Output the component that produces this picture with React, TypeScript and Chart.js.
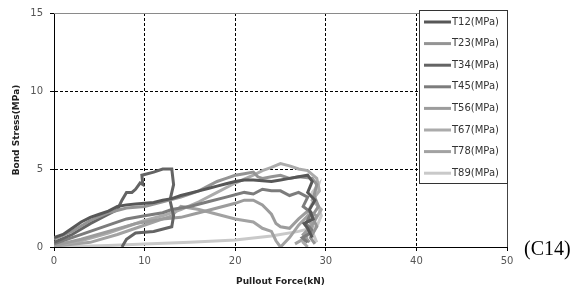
import React, { useEffect, useRef } from "react";
import { Chart, registerables } from "chart.js";

Chart.register(...registerables);

const SERIES_NAMES = ["T12(MPa)", "T23(MPa)", "T34(MPa)", "T45(MPa)", "T56(MPa)", "T67(MPa)", "T78(MPa)", "T89(MPa)"];
const SERIES_COLORS = ["#575757", "#949494", "#646464", "#7c7c7c", "#9c9c9c", "#ababab", "#a2a2a2", "#c9c9c9"];

const X_TICKS = [0, 10, 20, 30, 40, 50];
const Y_TICKS = [0, 5, 10, 15];

// [Pullout force (kN), bond stress (MPa)]
const T12 = [[0,0.6],[1,0.8],[2,1.2],[3,1.6],[4,1.9],[5,2.1],[6,2.3],[7,2.6],[8,2.7],[9,2.75],[10,2.8],[11,2.85],[12,3.0],[13,3.1],[14,3.3],[15,3.45],[16,3.6],[17,3.75],[18,3.9],[19,4.05],[20,4.2],[21,4.3],[22,4.3],[23,4.25],[24,4.2],[25,4.3],[26,4.4],[27,4.5],[28,4.6],[28.5,4.2],[28,3.5],[28.8,3.0],[28.2,2.4],[28.6,1.8],[27.6,1.5],[28,1.2],[28.5,0.6]];
const T23 = [[0,0.5],[2,1.0],[4,1.7],[6,2.2],[8,2.5],[10,2.6],[12,2.9],[14,3.2],[16,3.6],[17,3.9],[18,4.2],[19,4.4],[20,4.6],[21,4.7],[22,4.8],[22.5,4.5],[23,4.4],[24,4.5],[25,4.6],[26,4.4],[27,4.5],[28.5,4.4],[29,4.0],[28.7,3.3],[29.2,2.6],[28.5,2.0],[29,1.3],[28.3,0.6],[28.8,0.2]];
const T34 = [[0,0.3],[2,0.8],[4,1.5],[6,2.1],[7,2.4],[7.5,3.0],[8,3.5],[8.6,3.5],[9,3.7],[9.5,4.1],[9.8,4.0],[9.7,4.6],[11,4.8],[12,5.0],[13,5.0],[13.2,4.0],[12.8,3.0],[13.2,2.0],[13,1.3],[11,1.0],[9,0.9],[8,0.5],[7.5,0]];
const T45 = [[0,0.2],[2,0.6],[4,1.0],[6,1.4],[8,1.8],[10,2.0],[12,2.2],[13,2.4],[15,2.6],[17,2.9],[19,3.2],[21,3.5],[22,3.4],[23,3.7],[24,3.6],[25,3.6],[26,3.3],[27,3.5],[28,3.2],[27.5,2.6],[28.4,2.2],[27.8,1.5],[28.6,1.0],[27.4,0.6],[28,0.3]];
const T56 = [[0,0.1],[3,0.5],[6,1.0],[9,1.5],[12,1.8],[14,1.9],[16,2.2],[18,2.5],[20,2.8],[21,3.0],[22,3.0],[23,2.7],[23.5,2.4],[24,2.1],[24.5,1.5],[25,1.3],[26,1.2],[27,1.8],[28,2.3],[29,2.0],[28.5,1.4],[27.5,0.8],[28.2,0.3]];
const T67 = [[0,0.1],[3,0.4],[6,0.9],[8,1.3],[10,1.7],[12,2.0],[14,2.4],[16,2.9],[18,3.5],[20,4.1],[22,4.6],[23,4.9],[24,5.1],[25,5.35],[26,5.2],[27,5.0],[28,4.9],[29,4.4],[29.3,3.6],[28.5,3.0],[29.5,2.4],[28.8,1.7],[28,1.0],[27.5,0.3],[28,0]];
const T78 = [[0,0.05],[4,0.3],[7,0.8],[9,1.2],[11,1.6],[13,2.0],[14,2.6],[16,2.4],[18,2.1],[20,1.8],[21,1.7],[22,1.6],[23,1.2],[24,1.0],[24.5,0.4],[25,0],[26,0.6],[27,1.4],[28,2.0],[28.5,1.3],[27.8,0.6],[26.6,0.2]];
const T89 = [[0,0],[3,0.05],[6,0.1],[10,0.2],[15,0.3],[20,0.45],[24,0.7],[27,1.0],[29,1.3],[29.5,2.0],[29,2.8],[28.5,3.5],[29.2,4.0],[28.8,3.2],[28,2.2],[28.5,1.0],[29,0.3]];

const SERIES = [T12, T23, T34, T45, T56, T67, T78, T89];

const legendPlugin = {
  id: "customLegend",
  afterDatasetsDraw(chart: any) {
    const { ctx, chartArea } = chart;
    ctx.save();
    ctx.strokeStyle = "#8a8a8a";
    ctx.lineWidth = 1;
    ctx.beginPath();
    ctx.moveTo(chartArea.left, chartArea.top + 0.5);
    ctx.lineTo(chartArea.right, chartArea.top + 0.5);
    ctx.stroke();
    ctx.strokeStyle = "#444";
    ctx.beginPath();
    ctx.moveTo(chartArea.right + 0.5, chartArea.top);
    ctx.lineTo(chartArea.right + 0.5, chartArea.bottom);
    ctx.stroke();
    const bx = 419.5, by = 10.5, bw = 88, bh = 173;
    ctx.fillStyle = "#fff";
    ctx.fillRect(bx, by, bw, bh);
    ctx.strokeStyle = "#333";
    ctx.strokeRect(bx, by, bw, bh);
    ctx.font = "10px 'DejaVu Sans'";
    ctx.textBaseline = "middle";
    ctx.textAlign = "left";
    SERIES_NAMES.forEach((name, i) => {
      const y = 22 + i * 21.6;
      ctx.strokeStyle = SERIES_COLORS[i];
      ctx.lineWidth = 3;
      ctx.beginPath();
      ctx.moveTo(424, y);
      ctx.lineTo(451, y);
      ctx.stroke();
      ctx.fillStyle = "#333";
      ctx.fillText(name, 452, y);
    });
    ctx.fillStyle = "#000";
    ctx.font = "20px 'Liberation Serif'";
    ctx.textBaseline = "alphabetic";
    ctx.fillText("(C14)", 524, 255);
    ctx.restore();
  },
};

export default function App() {
  const ref = useRef<HTMLCanvasElement>(null);
  useEffect(() => {
    document.body.style.margin = "0";
    const canvas = ref.current!;
    const gridColor = (c: any) => {
      const v = c.tick ? c.tick.value : null;
      if (v === 0 || v === 50 || v === 15) return "rgba(0,0,0,0)";
      return "#000";
    };
    const chart = new Chart(canvas, {
      type: "scatter",
      data: {
        datasets: SERIES.map((s, i) => ({
          label: SERIES_NAMES[i],
          data: s.map(([x, y]) => ({ x, y })),
          showLine: true,
          borderColor: SERIES_COLORS[i],
          backgroundColor: SERIES_COLORS[i],
          borderWidth: 3,
          pointRadius: 0,
          tension: 0,
        })),
      },
      options: {
        responsive: false,
        animation: false,
        layout: { padding: { left: 0, right: 76, top: 10, bottom: 0 } },
        plugins: { legend: { display: false }, tooltip: { enabled: false } },
        scales: {
          x: {
            type: "linear",
            min: 0,
            max: 50,
            afterBuildTicks: (s: any) => { s.ticks = X_TICKS.map((v) => ({ value: v })); },
            afterFit: (s: any) => { s.height = 43; },
            ticks: { color: "#555", font: { family: "DejaVu Sans", size: 10 }, padding: 4, maxRotation: 0 },
            grid: { color: gridColor, lineWidth: 1, tickColor: "#000", tickLength: 4, tickBorderDash: [] },
            border: { color: "#000", width: 1, dash: [3, 2] },
            title: { display: true, text: "Pullout Force(kN)", color: "#222", font: { family: "DejaVu Sans", size: 9, weight: "bold" }, padding: { top: 0, bottom: 3 } },
          },
          y: {
            type: "linear",
            min: 0,
            max: 15,
            afterBuildTicks: (s: any) => { s.ticks = Y_TICKS.map((v) => ({ value: v })); },
            afterFit: (s: any) => { s.width = 54; },
            ticks: { color: "#555", font: { family: "DejaVu Sans", size: 10 }, padding: 7 },
            grid: { color: gridColor, lineWidth: 1, tickColor: "#000", tickLength: 4, tickBorderDash: [] },
            border: { color: "#000", width: 1, dash: [3, 2] },
            title: { display: true, text: "Bond Stress(MPa)", color: "#222", font: { family: "DejaVu Sans", size: 9, weight: "bold" }, padding: { top: 11, bottom: 0 } },
          },
        },
      },
      plugins: [legendPlugin],
    } as any);
    return () => chart.destroy();
  }, []);
  return (
    <div style={{ width: 583, height: 290 }}>
      <canvas ref={ref} width={583} height={290} />
    </div>
  );
}
